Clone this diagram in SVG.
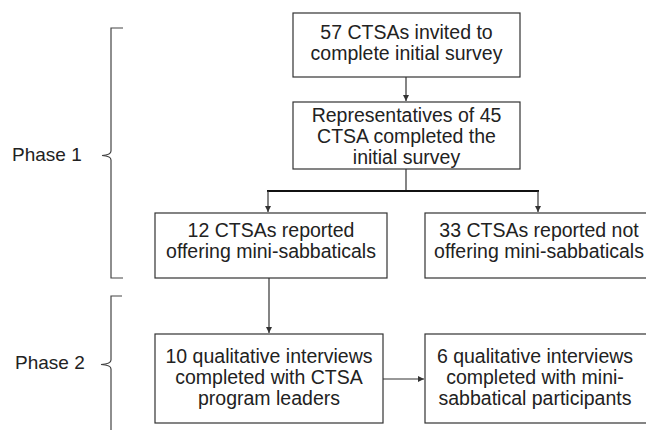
<svg xmlns="http://www.w3.org/2000/svg" width="646" height="430" viewBox="0 0 646 430">
<defs>
<marker id="ah" viewBox="0 0 10 10" refX="10" refY="5" markerWidth="6" markerHeight="6" markerUnits="userSpaceOnUse" orient="auto">
<path d="M0,0 L10,5 L0,10 z" fill="#333"/>
</marker>
<style>
.box{fill:#fff;stroke:#333;stroke-width:1.2}
.t{font-family:"Liberation Sans",Arial,sans-serif;font-size:19.5px;fill:#222;text-anchor:middle}
.p{font-family:"Liberation Sans",Arial,sans-serif;font-size:19px;fill:#222}
.c{fill:none;stroke:#333;stroke-width:1.2}
.b{fill:none;stroke:#111;stroke-width:2.2}
.br{fill:none;stroke:#444;stroke-width:1.2}
</style>
</defs>
<rect width="646" height="430" fill="#fff"/>
<g id="connectors">
<line class="c" x1="406" y1="77" x2="406" y2="101" marker-end="url(#ah)"/>
<line class="c" x1="406" y1="169" x2="406" y2="191"/>
<line class="b" x1="267" y1="191" x2="539" y2="191"/>
<line class="c" x1="268" y1="191" x2="268" y2="212" marker-end="url(#ah)"/>
<line class="c" x1="538" y1="191" x2="538" y2="212" marker-end="url(#ah)"/>
<line class="c" x1="269" y1="278" x2="269" y2="333" marker-end="url(#ah)"/>
<line class="c" x1="383" y1="379" x2="424" y2="379" marker-end="url(#ah)"/>
</g>
<g id="phase1">
<path class="br" d="M123,28 H111 V151 Q111,155 102,155.5 Q111,156 111,160 V278 H123"/>
<text class="p" x="12" y="161">Phase 1</text>
</g>
<g id="phase2">
<path class="br" d="M122,296 H111 V360 Q111,364 101,364.5 Q111,365 111,369 V432"/>
<text class="p" x="15" y="369">Phase 2</text>
</g>
<g id="n1">
<rect class="box" x="293" y="13" width="227" height="64"/>
<text class="t" x="406.5" y="39">57 CTSAs invited to</text>
<text class="t" x="406.5" y="60">complete initial survey</text>
</g>
<g id="n2">
<rect class="box" x="293" y="102" width="227" height="67"/>
<text class="t" x="406.5" y="122">Representatives of 45</text>
<text class="t" x="406.5" y="143">CTSA completed the</text>
<text class="t" x="406.5" y="164">initial survey</text>
</g>
<g id="n3">
<rect class="box" x="155" y="213" width="232" height="65"/>
<text class="t" x="271" y="237">12 CTSAs reported</text>
<text class="t" x="271" y="258">offering mini-sabbaticals</text>
</g>
<g id="n4">
<rect class="box" x="425" y="213" width="240" height="65"/>
<text class="t" x="539" y="237">33 CTSAs reported not</text>
<text class="t" x="539" y="258">offering mini-sabbaticals</text>
</g>
<g id="n5">
<rect class="box" x="155" y="334" width="228" height="89"/>
<text class="t" x="269" y="363">10 qualitative interviews</text>
<text class="t" x="269" y="384">completed with CTSA</text>
<text class="t" x="269" y="405">program leaders</text>
</g>
<g id="n6">
<rect class="box" x="425" y="334" width="240" height="89"/>
<text class="t" x="535" y="363">6 qualitative interviews</text>
<text class="t" x="535" y="384">completed with mini-</text>
<text class="t" x="535" y="405">sabbatical participants</text>
</g>
</svg>
